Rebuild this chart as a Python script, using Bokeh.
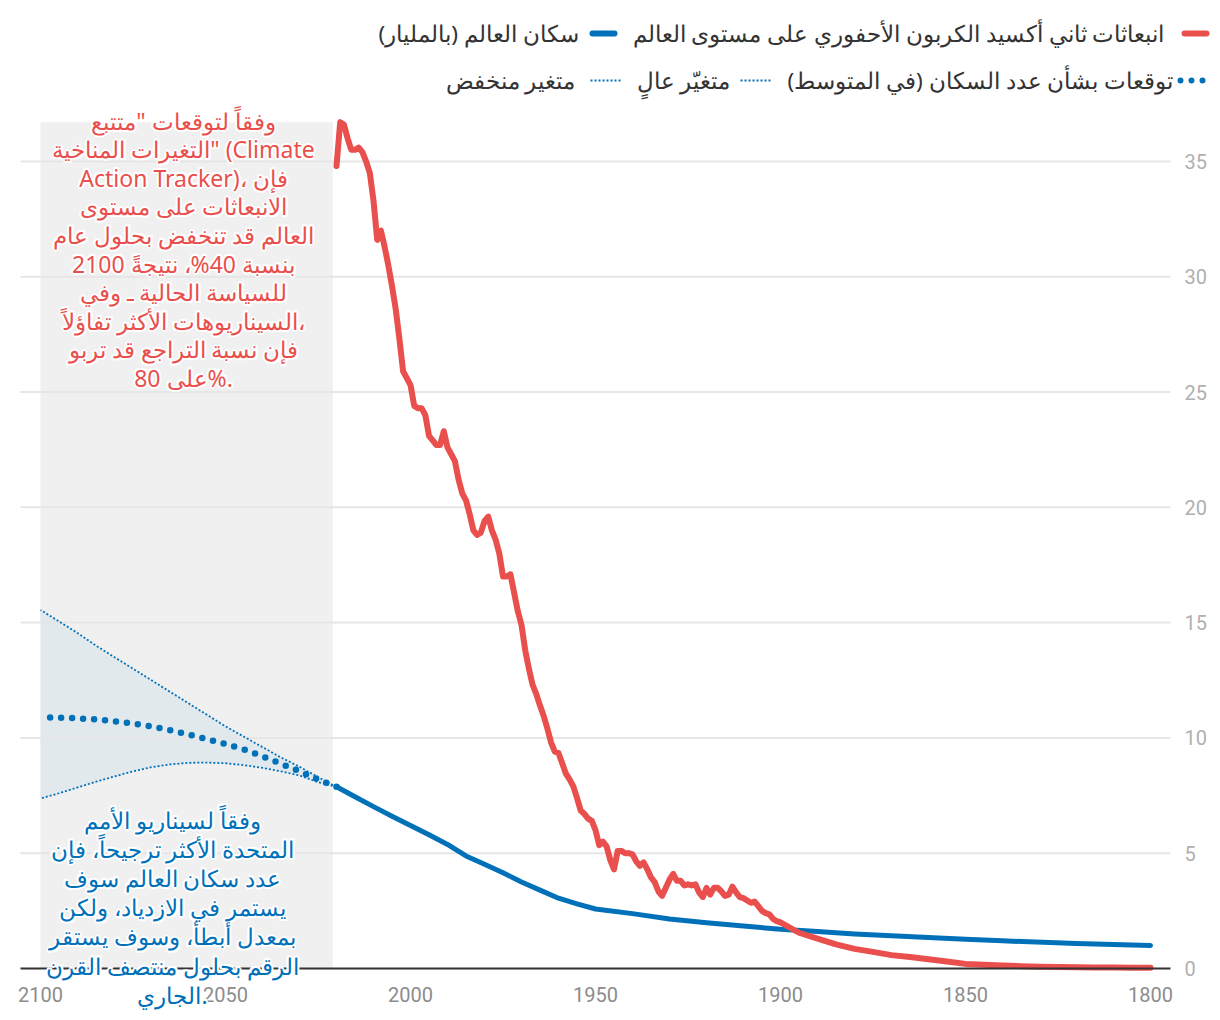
from bokeh.plotting import figure
from bokeh.models import Range1d, FixedTicker, Label
from bokeh.embed import file_html
from bokeh.resources import INLINE
from bokeh.core.properties import value

# ---------------- data ----------------
co2_years = list(range(1800, 1900, 5)) + list(range(1900, 2021))
co2 = [0.03, 0.035, 0.04, 0.045, 0.05, 0.06, 0.08, 0.10, 0.13, 0.16,
       0.20, 0.30, 0.40, 0.50, 0.58, 0.72, 0.85, 1.05, 1.30, 1.55,
       # 1900-1909
       2.00, 2.05, 2.15, 2.35, 2.40, 2.50, 2.70, 2.90, 2.85, 2.95,
       # 1910-1919
       3.05, 3.10, 3.30, 3.55, 3.20, 3.15, 3.35, 3.50, 3.50, 3.20,
       # 1920-1929
       3.50, 3.10, 3.30, 3.65, 3.60, 3.65, 3.60, 3.80, 3.80, 4.10,
       # 1930-1939
       3.85, 3.50, 3.15, 3.35, 3.75, 3.95, 4.30, 4.60, 4.45, 4.65,
       # 1940-1949
       4.95, 5.00, 5.00, 5.10, 5.10, 4.30, 4.70, 5.30, 5.50, 5.35,
       # 1950-1959
       6.00, 6.40, 6.50, 6.70, 6.85, 7.40, 7.90, 8.20, 8.45, 8.90,
       # 1960-1969
       9.35, 9.40, 9.80, 10.40, 10.95, 11.40, 11.90, 12.30, 13.00, 13.80,
       # 1970-1979
       14.90, 15.50, 16.30, 17.10, 17.00, 17.00, 18.00, 18.60, 19.00, 19.60,
       # 1980-1989
       19.40, 18.90, 18.80, 19.00, 19.70, 20.30, 20.60, 21.20, 22.00, 22.30,
       # 1990-1999
       22.60, 23.30, 22.70, 22.70, 22.90, 23.10, 24.00, 24.30, 24.30, 24.40,
       # 2000-2009
       25.30, 25.60, 25.90, 27.30, 28.60, 29.60, 30.50, 31.30, 32.00, 31.60,
       # 2010-2020
       33.30, 34.50, 35.00, 35.40, 35.60, 35.50, 35.50, 36.00, 36.60, 36.70, 34.80]

pop_years = [1800, 1820, 1840, 1850, 1860, 1870, 1880, 1890, 1900, 1910, 1920,
             1930, 1940, 1950, 1955, 1960, 1965, 1970, 1975, 1980, 1985, 1990,
             1995, 2000, 2005, 2010, 2015, 2020]
pop = [1.00, 1.08, 1.20, 1.27, 1.34, 1.42, 1.50, 1.60, 1.70, 1.84, 1.98,
       2.15, 2.38, 2.58, 2.80, 3.05, 3.40, 3.75, 4.15, 4.52, 4.88, 5.38,
       5.80, 6.20, 6.60, 7.02, 7.45, 7.88]

proj_years = list(range(2020, 2101, 5))
proj_median = [7.88, 8.20, 8.55, 8.88, 9.20, 9.50, 9.73, 9.95, 10.15, 10.33,
               10.50, 10.62, 10.72, 10.80, 10.85, 10.88, 10.90]
proj_high = [7.88, 8.30, 8.75, 9.15, 9.60, 10.05, 10.50, 11.00, 11.50, 12.00,
             12.50, 13.00, 13.50, 14.00, 14.55, 15.05, 15.55]
proj_low = [7.88, 8.08, 8.37, 8.55, 8.70, 8.82, 8.90, 8.93, 8.92, 8.85,
            8.73, 8.55, 8.33, 8.10, 7.85, 7.60, 7.37]

x_ticks = [1800, 1850, 1900, 1950, 2000, 2050, 2100]
y_ticks = [0, 5, 10, 15, 20, 25, 30, 35]

legend_labels = [
    "انبعاثات ثاني أكسيد الكربون الأحفوري على مستوى العالم",
    "سكان العالم (بالمليار)",
    "توقعات بشأن عدد السكان (في المتوسط)",
    "متغيّر عالٍ",
    "متغير منخفض",
]

co2_note = [
    'وفقاً لتوقعات "متتبع',
    'التغيرات المناخية" (Climate',
    'Action Tracker)، فإن',
    'الانبعاثات على مستوى',
    'العالم قد تنخفض بحلول عام',
    '2100 بنسبة 40%، نتيجةً',
    'للسياسة الحالية ـ وفي',
    'السيناريوهات الأكثر تفاؤلاً،',
    'فإن نسبة التراجع قد تربو',
    'على 80%.',
]
pop_note = [
    'وفقاً لسيناريو الأمم',
    'المتحدة الأكثر ترجيحاً، فإن',
    'عدد سكان العالم سوف',
    'يستمر في الازدياد، ولكن',
    'بمعدل أبطأ، وسوف يستقر',
    'الرقم بحلول منتصف القرن',
    'الجاري.',
]

# ---------------- styles / layout ----------------
RED = "#e94f4c"
BLUE = "#0071b9"
GREY_BOX = "#f0f0f0"
BAND = "#e2e9ed"
FONT = "Noto Sans"
NUM_FONT = "Roboto"

W, H = 1220, 1020
# page-pixel -> data helpers (layout only)
def px_x(px):
    return 2100 - (px - 40) / 3.7

def px_y(py):
    return (968 - py) / 23.06

X_LEFT, X_RIGHT = px_x(20), px_x(1170)

def rtl(s):
    return "\u202b" + s + "\u202c"

def ltr(s):
    return "\u202a" + s + "\u202c"

p = figure(width=W, height=H, x_range=Range1d(px_x(0), px_x(W)), y_range=Range1d(px_y(H), px_y(0)),
           y_axis_location="right", toolbar_location=None, output_backend="svg", min_border=0)
p.outline_line_color = None
p.xgrid.visible = False
p.ygrid.visible = False

# projection period shading and uncertainty band
p.quad(left=[proj_years[-1]], right=[proj_years[0] + 1], bottom=[0], top=[max(co2)],
       fill_color=GREY_BOX, line_color=None, level="image")
p.varea(x=proj_years, y1=proj_low, y2=proj_high, fill_color=BAND, level="image")

# horizontal grid lines
grid_y = y_ticks[1:]
p.segment(x0=[X_LEFT] * len(grid_y), y0=grid_y, x1=[X_RIGHT] * len(grid_y), y1=grid_y,
          line_color="#e6e6e6", line_width=2, level="underlay")

p.line(proj_years, proj_high, line_color=BLUE, line_width=1.8, line_dash="2 2")
p.line(proj_years, proj_low, line_color=BLUE, line_width=1.8, line_dash="2 2")
p.line(proj_years, proj_median, line_color=BLUE, line_width=6.5, line_dash="0 11", line_cap="round")

p.line(pop_years, pop, line_color=BLUE, line_width=5, line_cap="round", line_join="round")
p.line(co2_years, co2, line_color=RED, line_width=6, line_cap="round", line_join="round")

# axes
p.xaxis.fixed_location = 0
p.xaxis.bounds = (X_RIGHT, X_LEFT)
p.xaxis.ticker = FixedTicker(ticks=x_ticks)
p.xaxis.axis_line_color = "#333333"
p.xaxis.axis_line_width = 2
p.xaxis.major_tick_line_color = None
p.xaxis.minor_tick_line_color = None
p.xaxis.major_label_text_font = NUM_FONT
p.xaxis.major_label_text_font_size = "20px"
p.xaxis.major_label_text_color = "#8c8c8c"
p.xaxis.major_label_standoff = 12

p.yaxis.fixed_location = X_RIGHT
p.yaxis.ticker = FixedTicker(ticks=y_ticks)
p.yaxis.axis_line_color = None
p.yaxis.major_tick_line_color = None
p.yaxis.minor_tick_line_color = None
p.yaxis.major_label_text_font = NUM_FONT
p.yaxis.major_label_text_font_size = "20px"
p.yaxis.major_label_text_color = "#b0b0b0"
p.yaxis.major_label_standoff = 8

# legend (right-to-left, swatch on the right of each label)
r1, r2 = px_y(33), px_y(80)
p.segment(x0=[px_x(1184)], y0=[r1], x1=[px_x(1206)], y1=[r1], line_color=RED, line_width=6, line_cap="round")
p.segment(x0=[px_x(592)], y0=[r1], x1=[px_x(614)], y1=[r1], line_color=BLUE, line_width=6, line_cap="round")
p.segment(x0=[px_x(1180)], y0=[r2], x1=[px_x(1206)], y1=[r2], line_color=BLUE, line_width=6,
          line_cap="round", line_dash="0 11")
p.segment(x0=[px_x(740)], y0=[r2], x1=[px_x(770)], y1=[r2], line_color=BLUE, line_width=2, line_dash="2 2")
p.segment(x0=[px_x(590)], y0=[r2], x1=[px_x(620)], y1=[r2], line_color=BLUE, line_width=2, line_dash="2 2")
p.text(x=[px_x(v) for v in (632, 378, 787, 636, 445)], y=[r1, r1, r2, r2, r2],
       text=[rtl(s) for s in legend_labels], text_align="left", text_baseline="middle",
       text_font=value(FONT), text_font_size="22.5px", text_color="#333333")

# annotations with a white halo
halo = [(-2, 0), (2, 0), (0, -2), (0, 2), (-1.5, -1.5), (1.5, -1.5), (-1.5, 1.5), (1.5, 1.5)]
notes = [
    (co2_note, RED, 183, 120, 28.6),
    (pop_note, BLUE, 172, 819, 29.2),
]
for lines, color, cx, top, step in notes:
    for i, s in enumerate(lines):
        for dx, dy in halo:
            p.add_layout(Label(x=px_x(cx), y=px_y(top + i * step), x_offset=dx, y_offset=dy,
                               text=ltr(s), text_align="center", text_baseline="middle",
                               text_font=FONT, text_font_size="23px", text_color="white"))
for lines, color, cx, top, step in notes:
    for i, s in enumerate(lines):
        p.add_layout(Label(x=px_x(cx), y=px_y(top + i * step), text=ltr(s), text_align="center",
                           text_baseline="middle", text_font=FONT, text_font_size="23px",
                           text_color=color))

open("out.html", "w").write(file_html(p, INLINE))
